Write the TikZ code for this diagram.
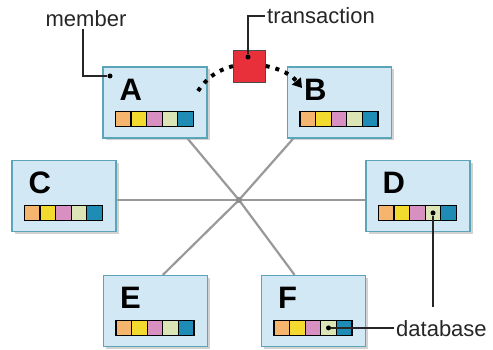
\documentclass[tikz,border=0pt]{standalone}
\usepackage{fontspec}
\setmainfont{Liberation Sans}
\usetikzlibrary{calc,shadows,arrows.meta,backgrounds}
\definecolor{boxfill}{HTML}{D2E8F4}
\definecolor{boxedge}{HTML}{5CA4B8}
\definecolor{txred}{HTML}{E8303A}
\definecolor{dbA}{HTML}{F5B56E}
\definecolor{dbB}{HTML}{F3DA2E}
\definecolor{dbC}{HTML}{D890C3}
\definecolor{dbD}{HTML}{DCE5B6}
\definecolor{dbE}{HTML}{1E8CB5}
\tikzset{
  memberbox/.style={draw=boxedge, fill=boxfill, line width=1.2pt, minimum width=104pt, minimum height=71pt,
    drop shadow={shadow xshift=2.5pt, shadow yshift=-2.5pt, fill=black!35}},
  cell/.style={draw=black, line width=1.2pt, minimum width=15.6pt, minimum height=15pt, inner sep=0pt},
  link/.style={draw=black!40, line width=2.2pt},
  trans/.style={line width=4pt, dash pattern=on 4pt off 6pt},
  lead/.style={line width=1.6pt, draw=black!85},
  dot/.style={circle, fill=black, inner sep=0pt, minimum size=5pt},
  callout/.style={font=\fontsize{22}{24}\selectfont, text=black!85, inner sep=2pt}
}
\newcommand{\memberbox}[2]{
  \node[memberbox] (#1) at (#2) {};
  \node[anchor=base west, inner sep=0pt, font=\fontsize{31}{33}\selectfont\bfseries] (#1-name) at ($(#1.north west)+(17,34)$) {#1};
  \foreach \c [count=\i] in {dbA,dbB,dbC,dbD,dbE}
    \node[cell, fill=\c] (#1-c\i) at ($(#1.north west)+(5.2+\i*15.6,53)$) {};
}
\begin{document}
\begin{tikzpicture}[x=1pt, y=-1pt]
\useasboundingbox (0,0) rectangle (493,350);
% members round the hub
\node[circle, fill=black!45, inner sep=0pt, minimum size=6pt] (hub) at (239,200) {};
\memberbox{A}{155,102.5}
\memberbox{B}{339.5,102.5}
\memberbox{C}{64,196}
\memberbox{D}{418,196}
\memberbox{E}{155.5,311}
\memberbox{F}{313.5,311}
\begin{scope}[on background layer]
\draw[link] (hub.center) -- ($(A.south west)!0.81!(A.south east)$);
\draw[link] (hub.center) -- ($(B.south west)!0.06!(B.south east)$);
\draw[link] (hub.center) -- (hub -| C.east);
\draw[link] (hub.center) -- (hub -| D.west);
\draw[link] (hub.center) -- ($(E.north west)!0.57!(E.north east)$);
\draw[link] (hub.center) -- ($(F.north west)!0.32!(F.north east)$);
\end{scope}
% transaction
\node[draw=black!70, fill=txred, minimum size=32pt, inner sep=0pt] (tx) at (249.5,66) {};
\coordinate (ta) at (198,91);
\coordinate (tb) at (302,88);
\draw[trans] (ta) to[bend left=20] (tx.west);
\draw[trans, -{Triangle[length=9pt,width=11pt]}] (tx.east) to[bend left=20] (tb);
% callouts
\node[callout] (mlabel) at (86,19) {member};
\node[dot] (mdot) at (110,76) {};
\draw[lead] ([xshift=-3pt]mlabel.south) |- (mdot);
\node[callout, anchor=west] (tlabel) at (265,16) {transaction};
\node[dot] (tdot) at (248,57) {};
\draw[lead] (tdot) |- (tlabel.west);
\node[callout, anchor=west] (dblabel) at (394,329) {database};
\node[dot] (ddot) at (D-c4.center) {};
\node[dot] (fdot) at (F-c4.center) {};
\coordinate (dbend) at (435,307);
\draw[lead] (ddot) -- (ddot |- dbend);
\draw[lead] (fdot) -- (fdot -| dblabel.west);
\end{tikzpicture}
\end{document}
